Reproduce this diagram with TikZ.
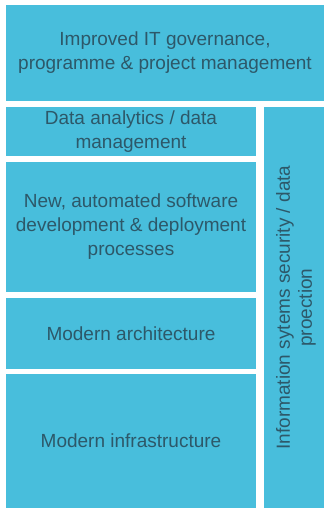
\documentclass[tikz,border=0pt]{standalone}
\usepackage{fontspec}
\setmainfont{Liberation Sans}
\usepackage{xcolor}
\usepackage{tikz}

\definecolor{tilecyan}{RGB}{72,190,220}
\definecolor{tiletext}{RGB}{45,88,105}

\begin{document}
\begin{tikzpicture}[x=1pt, y=-1pt,
  tile/.style={fill=tilecyan, draw=none, inner sep=0pt, text=tiletext,
    align=center, font=\fontsize{19}{24}\selectfont}]
            \useasboundingbox[fill=white] (0,0) rectangle (324,508);

            % Top box
            \node[tile, minimum width=318pt, minimum height=96pt] (gov) at (165,53)
              {Improved IT governance,\\programme \& project management};

            % Left column
            \node[tile, minimum width=250pt, minimum height=49pt] (data) at (131,131.5)
              {Data analytics / data\\management};
            \node[tile, minimum width=250pt, minimum height=130pt] (devops) at (131,227)
              {New, automated software\\development \& deployment\\processes};
            \node[tile, minimum width=250pt, minimum height=71pt] (arch) at (131,333.5)
              {Modern architecture};
            \node[tile, minimum width=250pt, minimum height=134pt] (infra) at (131,441)
              {Modern infrastructure};

            % Right column
            \node[tile, minimum width=60pt, minimum height=401pt] (sec) at (294,307.5) {};
            \node[rotate=90, inner sep=0pt, text=tiletext, align=center,
              font=\fontsize{19}{22}\selectfont] (sectext) at ([xshift=2pt]sec.center)
              {Information sytems security / data\\proection};
        \end{tikzpicture}
\end{document}
